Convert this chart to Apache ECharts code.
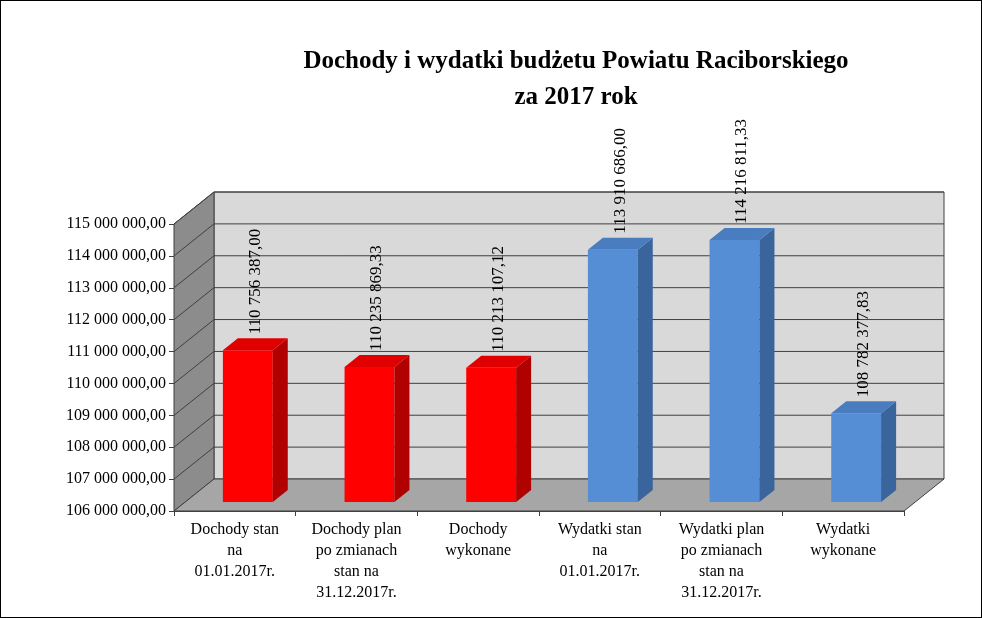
<!DOCTYPE html>
<html>
<head>
<meta charset="utf-8">
<script src="https://cdn.jsdelivr.net/npm/echarts@6/dist/echarts.min.js"></script>
<style>
html,body{margin:0;padding:0;background:#fff}
#main{width:982px;height:618px;box-sizing:border-box;border:1px solid #000}
</style>
</head>
<body>
<div id="main"></div>
<script>
// dane
const categories = ['Dochody stan\nna\n01.01.2017r.', 'Dochody plan\npo zmianach\nstan na\n31.12.2017r.', 'Dochody\nwykonane',
  'Wydatki stan\nna\n01.01.2017r.', 'Wydatki plan\npo zmianach\nstan na\n31.12.2017r.', 'Wydatki\nwykonane']
const values = [110756387.00, 110235869.33, 110213107.12, 113910686.00, 114216811.33, 108782377.83]
const kinds = ['d', 'd', 'd', 'w', 'w', 'w']
const yMin = 106000000, yMax = 115000000, yStep = 1000000

const colors = {
  d: { front: '#ff0000', side: '#b00000', top: '#e00000' },
  w: { front: '#558ed5', side: '#3a649c', top: '#4a7cc0' }
}
// przesuniecie glebi (tyl wykresu)
const DX = 40, DY = -32

const fmt = (v) => {
  const [i, f] = v.toFixed(2).split('.')
  return i.replace(/\B(?=(\d{3})+(?!\d))/g, ' ') + ',' + f
}

const chart = echarts.init(document.getElementById('main'))

const renderWalls = (params, api) => {
  const cs = params.coordSys
  const x0 = cs.x, x1 = cs.x + cs.width
  const yb = api.coord([0, yMin])[1], yt = api.coord([0, yMax])[1]
  const kids = []
  // tylna sciana
  kids.push({ type: 'polygon', shape: { points: [[x0 + DX, yb + DY], [x1 + DX, yb + DY], [x1 + DX, yt + DY], [x0 + DX, yt + DY]] },
    style: { fill: '#d9d9d9', stroke: '#404040', lineWidth: 1 } })
  // lewa sciana
  kids.push({ type: 'polygon', shape: { points: [[x0, yb], [x0 + DX, yb + DY], [x0 + DX, yt + DY], [x0, yt]] },
    style: { fill: '#8c8c8c', stroke: '#404040', lineWidth: 1 } })
  for (let v = yMin + yStep; v <= yMax; v += yStep) {
    const y = api.coord([0, v])[1]
    kids.push({ type: 'polyline', shape: { points: [[x0, y], [x0 + DX, y + DY], [x1 + DX, y + DY]] },
      style: { stroke: '#404040', lineWidth: 1, fill: null } })
  }
  // podloga
  kids.push({ type: 'polygon', shape: { points: [[x0, yb], [x1, yb], [x1 + DX, yb + DY], [x0 + DX, yb + DY]] },
    style: { fill: '#a6a6a6', stroke: '#404040', lineWidth: 1 } })
  return { type: 'group', children: kids }
}

const renderBar = (params, api) => {
  const idx = api.value(0), v = api.value(1)
  const c = colors[kinds[params.dataIndex]]
  const bw = api.size([1, 0])[0] * 0.41
  const base = api.coord([idx, yMin]), top = api.coord([idx, v])
  const ox = 13, oy = -9, sx = 15, sy = -12
  const xl = base[0] + ox - bw / 2, xr = xl + bw
  const yb = base[1] + oy, yt = top[1] + oy
  return {
    type: 'group', children: [
      { type: 'rect', shape: { x: xl, y: yt, width: bw, height: yb - yt }, style: { fill: c.front } },
      { type: 'polygon', shape: { points: [[xr, yb], [xr + sx, yb + sy], [xr + sx, yt + sy], [xr, yt]] }, style: { fill: c.side } },
      { type: 'polygon', shape: { points: [[xl, yt], [xr, yt], [xr + sx, yt + sy], [xl + sx, yt + sy]] }, style: { fill: c.top } },
      { type: 'text', rotation: Math.PI / 2, x: xl + bw / 2 + sx / 2, y: yt + sy - 4,
        style: { text: fmt(v), fill: '#000', fontFamily: 'Liberation Serif', fontSize: 17, align: 'left', verticalAlign: 'middle' } }
    ]
  }
}

const option = {
  backgroundColor: '#fff',
  animation: false,
  title: {
    text: 'Dochody i wydatki budżetu Powiatu Raciborskiego\nza 2017 rok',
    left: 570, top: 38, textAlign: 'center',
    textStyle: { fontFamily: 'Liberation Serif', fontSize: 25, fontWeight: 'bold', color: '#000', lineHeight: 36 }
  },
  grid: { left: 173, right: 77, top: 223, bottom: 106, containLabel: false },
  xAxis: {
    type: 'category', data: categories,
    axisLine: { lineStyle: { color: '#404040' } },
    axisTick: { show: true, lineStyle: { color: '#404040' } },
    axisLabel: { fontFamily: 'Liberation Serif', fontSize: 16, color: '#000', lineHeight: 21, margin: 8, interval: 0 }
  },
  yAxis: {
    type: 'value', min: yMin, max: yMax, interval: yStep,
    axisLine: { show: true, lineStyle: { color: '#404040' } },
    axisTick: { show: true, length: 5, lineStyle: { color: '#404040' } },
    splitLine: { show: false },
    axisLabel: { fontFamily: 'Liberation Serif', fontSize: 16, color: '#000', margin: 8, formatter: (v) => fmt(v) }
  },
  series: [
    { type: 'custom', renderItem: renderWalls, data: [[0, yMin]], silent: true, z: 1 },
    { type: 'custom', renderItem: renderBar, data: values.map((v, i) => [i, v]), z: 3, encode: { x: 0, y: 1 } }
  ]
}
chart.setOption(option)
</script>
</body>
</html>
